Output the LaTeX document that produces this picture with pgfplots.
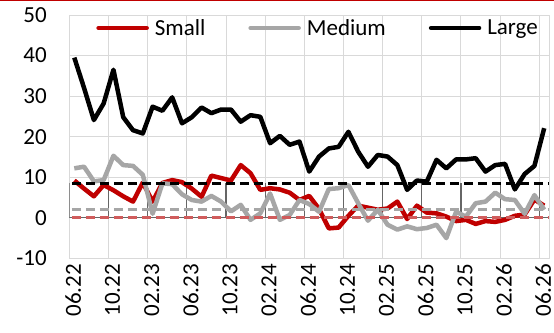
\documentclass[border=0pt]{standalone}
\usepackage{fontspec}
\setmainfont{Carlito}
\usepackage{pgfplots}
\pgfplotsset{compat=1.18}
\definecolor{cRed}{HTML}{C00000}
\definecolor{cGray}{HTML}{A6A6A6}
\definecolor{cRedL}{RGB}{208,92,92}
\definecolor{cGrid}{HTML}{D9D9D9}
\begin{document}
\begin{tikzpicture}
\useasboundingbox (0,0) rectangle (554bp,333bp);
\fill[white] (0,0) rectangle (554bp,333bp);
\draw[cRed, line width=1.5bp] (0,332.25bp) -- (554bp,332.25bp);
\begin{axis}[
  at={(69.4bp,74.6bp)}, anchor=south west,
  scale only axis, width=479.7bp, height=243.4bp,
  xmin=0, xmax=49, ymin=-10, ymax=50,
  ytick={-10,0,...,50},
  xtick={0.4,4.4,...,48.4},
  xticklabels={06.22,10.22,02.23,06.23,10.23,02.24,06.24,10.24,02.25,06.25,10.25,02.26,06.26},
  minor xtick={0,4,...,48},
  xminorgrids, ymajorgrids,
  major grid style={draw=cGrid, line width=1bp},
  minor grid style={draw=cGrid, line width=1bp},
  axis line style={draw=cGrid, line width=1bp},
  major tick length=0pt, minor tick length=0pt,
  /pgf/number format/assume math mode=true,
  tick label style={font=\fontsize{23bp}{27bp}\selectfont, inner sep=0pt},
  xticklabel style={rotate=90, anchor=east},
  yticklabel style={anchor=east},
  xticklabel shift=5.5bp,
  yticklabel shift=22.5bp,
  legend style={at={(axis cs:25.3,46.8)}, anchor=center, draw=none, fill=none,
    inner sep=0pt, outer sep=0pt, legend columns=3,
    font=\fontsize{23bp}{27bp}\selectfont,
    nodes={inner sep=0pt},
    /tikz/every odd column/.append style={column sep=6bp},
    /tikz/every even column/.append style={column sep=43bp}},
  legend image code/.code={\draw[#1, line cap=round] (0bp,0bp) -- (48bp,0bp);},
  line join=round,
]
% zero axis line with ticks
\draw[black!60, line width=1.2bp] (axis cs:0,0) -- (axis cs:49,0);
\pgfplotsinvokeforeach{0,4,8,12,16,20,24,28,32,36,40,44,48}{
  \draw[black!60, line width=1.2bp] (axis cs:#1,0) -- ++(0,-6bp);
}
\addplot[cRed, line width=4.5bp] coordinates {
(0.5,9.2) (1.5,7.2) (2.5,5.3) (3.5,8.1) (4.5,6.8) (5.5,5.3) (6.5,4.0) (7.5,8.7)
(8.5,4.0) (9.5,8.6) (10.5,9.3) (11.5,8.8) (12.5,7.2) (13.5,5.2) (14.5,10.4) (15.5,9.8)
(16.5,9.2) (17.5,13.0) (18.5,11.0) (19.5,6.9) (20.5,7.3) (21.5,7.0) (22.5,6.2) (23.5,4.4)
(24.5,5.4) (25.5,2.2) (26.5,-2.6) (27.5,-2.4) (28.5,0.5) (29.5,3.0) (30.5,2.5) (31.5,2.0)
(32.5,2.3) (33.5,4.0) (34.5,-0.3) (35.5,3.0) (36.5,1.3) (37.5,1.1) (38.5,0.3) (39.5,-0.8)
(40.5,-0.5) (41.5,-1.5) (42.5,-0.8) (43.5,-1.0) (44.5,-0.5) (45.5,0.5) (46.5,0.8) (47.5,4.5)
(48.5,3.0)
};
\addlegendentry{Small}
\addplot[cGray, line width=4.5bp] coordinates {
(0.5,12.2) (1.5,12.6) (2.5,9.0) (3.5,9.3) (4.5,15.3) (5.5,13.0) (6.5,12.8) (7.5,10.6)
(8.5,1.0) (9.5,8.5) (10.5,8.3) (11.5,5.8) (12.5,4.4) (13.5,4.0) (14.5,5.4) (15.5,4.0)
(16.5,1.6) (17.5,3.2) (18.5,-0.5) (19.5,1.1) (20.5,6.0) (21.5,-0.5) (22.5,0.7) (23.5,4.4)
(24.5,3.4) (25.5,1.5) (26.5,7.1) (27.5,7.3) (28.5,8.1) (29.5,3.6) (30.5,-0.7) (31.5,2.0)
(32.5,-1.7) (33.5,-2.9) (34.5,-2.1) (35.5,-2.8) (36.5,-2.5) (37.5,-1.7) (38.5,-5.0) (39.5,1.5)
(40.5,0.3) (41.5,3.6) (42.5,4.0) (43.5,6.2) (44.5,4.6) (45.5,4.4) (46.5,1.0) (47.5,5.6)
(48.5,2.0)
};
\addlegendentry{Medium}
\addplot[black, line width=4.5bp] coordinates {
(0.5,39.5) (1.5,32.0) (2.5,24.1) (3.5,28.2) (4.5,36.5) (5.5,24.8) (6.5,21.6) (7.5,20.8)
(8.5,27.4) (9.5,26.4) (10.5,29.7) (11.5,23.3) (12.5,24.8) (13.5,27.2) (14.5,25.8) (15.5,26.7)
(16.5,26.7) (17.5,23.7) (18.5,25.3) (19.5,24.9) (20.5,18.4) (21.5,20.2) (22.5,18.0) (23.5,18.8)
(24.5,11.4) (25.5,15.1) (26.5,17.1) (27.5,17.5) (28.5,21.2) (29.5,16.3) (30.5,12.6) (31.5,15.5)
(32.5,15.1) (33.5,13.0) (34.5,6.9) (35.5,9.2) (36.5,8.9) (37.5,14.3) (38.5,12.2) (39.5,14.4)
(40.5,14.4) (41.5,14.7) (42.5,11.4) (43.5,13.0) (44.5,13.3) (45.5,7.0) (46.5,10.8) (47.5,12.8)
(48.5,22.1)
};
\addlegendentry{Large}
\addplot[cRedL, line width=3.5bp, dash pattern=on 9bp off 5bp, forget plot] coordinates {(0.25,0.1) (48.9,0.1)};
\addplot[cGray, line width=3.5bp, dash pattern=on 9bp off 5bp, forget plot] coordinates {(0.25,2.0) (48.9,2.0)};
\addplot[black, line width=3.5bp, dash pattern=on 9bp off 5bp, forget plot] coordinates {(0.25,8.5) (48.9,8.5)};
\end{axis}
\end{tikzpicture}
\end{document}
